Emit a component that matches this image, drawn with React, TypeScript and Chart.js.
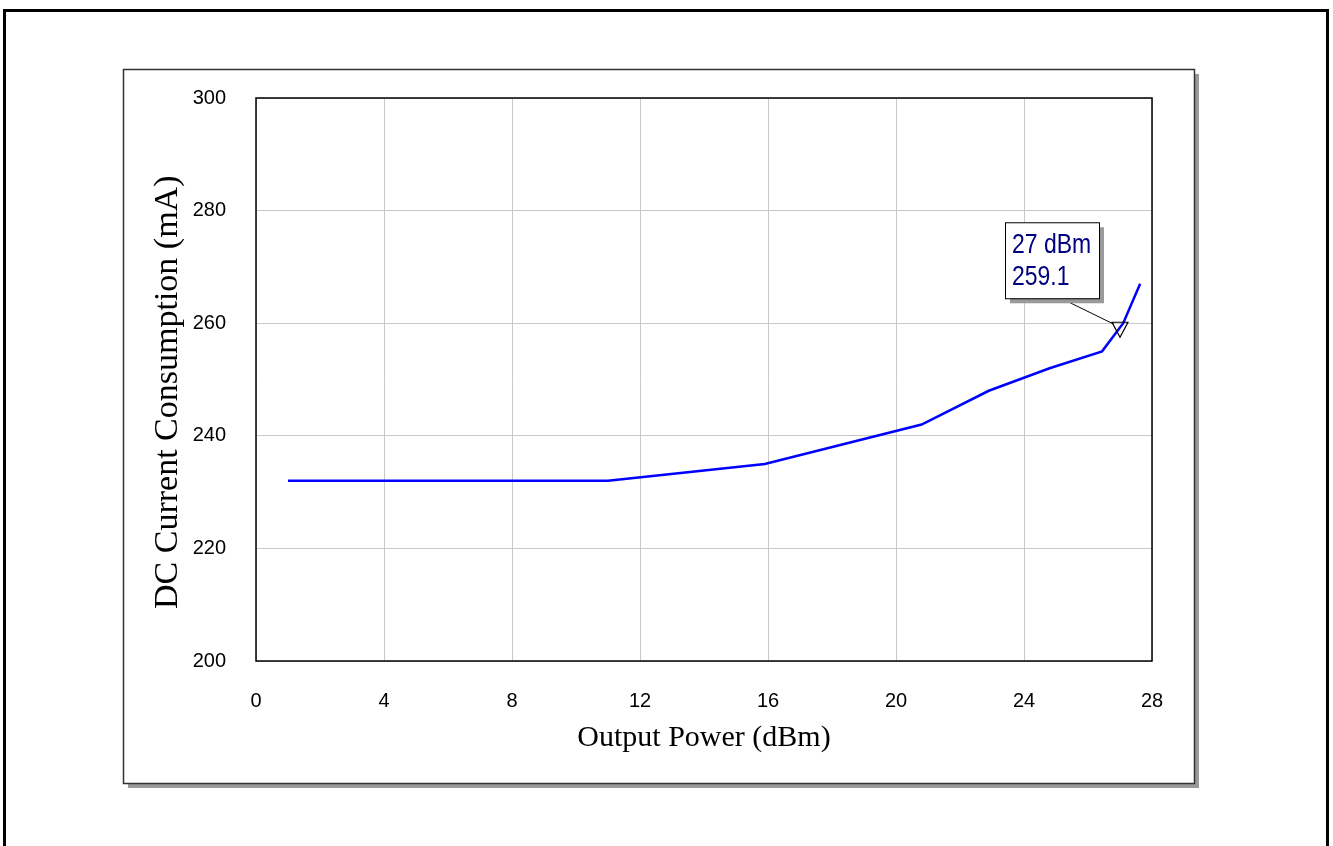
import React, { useEffect, useRef } from "react";
import { Chart, registerables } from "chart.js";

Chart.register(...registerables);

const powerDbm = [1, 11, 15.9, 20.8, 22.9, 24.8, 26.44, 27.1, 27.63];
const currentMa = [232, 232, 235, 242, 248, 252, 255, 260, 267];
const xTicks = [0, 4, 8, 12, 16, 20, 24, 28];
const yTicks = [200, 220, 240, 260, 280, 300];
const markerX = 27;
const markerY = 259.1;
const markerLines = ["27 dBm", "259.1"];

const sans = "'Liberation Sans Narrow', 'Arial Narrow', 'Liberation Sans', Arial, sans-serif";
const serif = "'Liberation Serif', 'Times New Roman', serif";

const framePlugin = {
  id: "framePlugin",
  beforeDraw(chart: any) {
    const ctx = chart.ctx;
    ctx.save();
    ctx.fillStyle = "#ffffff";
    ctx.fillRect(0, 0, chart.width, chart.height);
    ctx.strokeStyle = "#000";
    ctx.lineWidth = 3;
    ctx.strokeRect(4.5, 10.5, 1323, 845);
    ctx.fillStyle = "#9a9a9a";
    ctx.fillRect(128, 74, 1071, 714);
    ctx.fillStyle = "#ffffff";
    ctx.fillRect(123, 69, 1071, 714);
    ctx.strokeStyle = "#333";
    ctx.lineWidth = 1.5;
    ctx.strokeRect(123.5, 69.5, 1071, 714);
    ctx.restore();
  },
  afterDatasetsDraw(chart: any) {
    const ctx = chart.ctx;
    const { left, top, right, bottom } = chart.chartArea;
    ctx.save();
    ctx.strokeStyle = "#000";
    ctx.lineWidth = 1.5;
    ctx.strokeRect(left, top, right - left, bottom - top);

    const px = chart.scales.x.getPixelForValue(markerX);
    const py = chart.scales.y.getPixelForValue(markerY);
    const bx = px - 115;
    const by = py - 106;
    const bw = 94;
    const bh = 76;
    ctx.strokeStyle = "#000";
    ctx.lineWidth = 1;
    ctx.beginPath();
    ctx.moveTo(bx + 56, by + bh);
    ctx.lineTo(px - 6, py - 4);
    ctx.stroke();
    ctx.beginPath();
    ctx.moveTo(px - 8, py - 6);
    ctx.lineTo(px + 8, py - 6);
    ctx.lineTo(px, py + 9);
    ctx.closePath();
    ctx.lineWidth = 1.2;
    ctx.stroke();
    ctx.fillStyle = "#9a9a9a";
    ctx.fillRect(bx + 5, by + 5, bw, bh);
    ctx.fillStyle = "#fff";
    ctx.fillRect(bx, by, bw, bh);
    ctx.strokeStyle = "#000";
    ctx.lineWidth = 1;
    ctx.strokeRect(bx + 0.5, by + 0.5, bw, bh);
    ctx.fillStyle = "#000080";
    ctx.font = `28px ${sans}`;
    ctx.textBaseline = "alphabetic";
    ctx.textAlign = "left";
    ctx.translate(bx + 7, by);
    ctx.scale(0.82, 1);
    ctx.fillText(markerLines[0], 0, 31);
    ctx.fillText(markerLines[1], 0, 63);
    ctx.restore();
  },
};

export default function App() {
  const ref = useRef<HTMLCanvasElement>(null);
  useEffect(() => {
    document.body.style.margin = "0";
    const chart = new Chart(ref.current as HTMLCanvasElement, {
      type: "line",
      data: {
        datasets: [
          {
            data: powerDbm.map((x, i) => ({ x, y: currentMa[i] })),
            borderColor: "#0000ff",
            borderWidth: 2.5,
            pointRadius: 0,
            tension: 0,
            fill: false,
          },
        ],
      },
      options: {
        responsive: false,
        animation: false,
        layout: { padding: { left: 126, right: 181, top: 98, bottom: 85 } },
        plugins: { legend: { display: false }, tooltip: { enabled: false } },
        scales: {
          x: {
            type: "linear",
            min: xTicks[0],
            max: xTicks[xTicks.length - 1],
            afterBuildTicks: (s: any) => {
              s.ticks = xTicks.map((v) => ({ value: v }));
            },
            afterFit: (s: any) => {
              s.height = 100;
            },
            grid: { color: "#c8c8c8", lineWidth: 1, drawTicks: false },
            border: { display: false },
            ticks: { padding: 28, color: "#000", font: { size: 20, family: sans } },
            title: {
              display: true,
              text: "Output Power (dBm)",
              color: "#000",
              font: { size: 30, family: serif },
              padding: { top: 0, bottom: 5 },
            },
          },
          y: {
            type: "linear",
            min: yTicks[0],
            max: yTicks[yTicks.length - 1],
            afterBuildTicks: (s: any) => {
              s.ticks = yTicks.map((v) => ({ value: v }));
            },
            afterFit: (s: any) => {
              s.width = 130;
            },
            grid: { color: "#c8c8c8", lineWidth: 1, drawTicks: false },
            border: { display: false },
            ticks: { padding: 30, color: "#000", font: { size: 20, family: sans } },
            title: {
              display: true,
              text: "DC Current Consumption (mA)   ",
              color: "#000",
              font: { size: 34, family: serif },
              padding: { top: 22, bottom: 0 },
            },
          },
        },
      },
      plugins: [framePlugin],
    });
    return () => chart.destroy();
  }, []);
  return (
    <div style={{ position: "absolute", left: 0, top: 0, width: 1333, height: 846 }}>
      <canvas ref={ref} width={1333} height={846} />
    </div>
  );
}
